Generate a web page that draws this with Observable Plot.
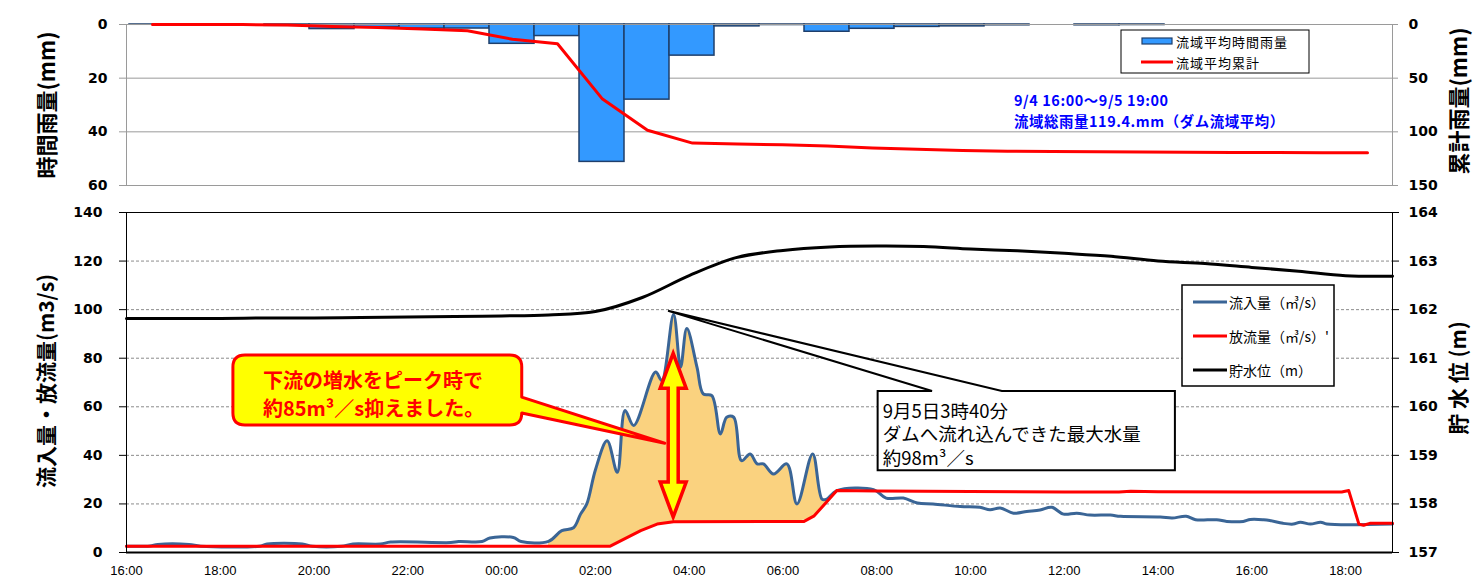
<!DOCTYPE html>
<html><head><meta charset="utf-8">
<script src="https://cdn.jsdelivr.net/npm/d3@7"></script>
<script src="https://cdn.jsdelivr.net/npm/@observablehq/plot@0.6"></script>
<style>
html,body{margin:0;padding:0;background:#fff;}
#wrap{position:relative;width:1478px;height:578px;overflow:hidden;background:#fff;}
#wrap > svg{position:absolute;left:0;}
</style></head><body><div id="wrap"></div>
<script>
// ---------- DATA ----------
const hourLabels = ["16:00","17:00","18:00","19:00","20:00","21:00","22:00","23:00","00:00","01:00","02:00","03:00","04:00","05:00","06:00","07:00","08:00","09:00","10:00","11:00","12:00","13:00","14:00","15:00","16:00 ","17:00 ","18:00 ","19:00 "];
const rainHourly = [0.1,0,0,0.5,1.7,1.0,1.5,1.5,7.2,4.3,51.2,28.0,11.6,0.7,0.2,2.7,1.6,0.9,0.7,0.3,0,0.3,0.2,0,0,0,0,0];
const rainCumulative = [0,0,0.1,0.5,1.9,2.9,4.2,5.8,13.8,18.0,69.5,98.5,110.5,111.4,112.0,113.3,115.0,116.3,117.4,118.0,118.4,118.6,118.9,119.1,119.2,119.3,119.4,119.4];

const inflowTimes = ["4 16:00","4 16:30","4 16:40","4 17:20","4 17:35","4 18:50","4 19:00","4 19:45","4 19:58","4 20:35","4 20:50","4 21:25","4 21:38","4 22:55","4 23:05","4 23:35","4 23:45","5 00:15","5 00:25","5 01:00","5 01:17","5 01:32","5 01:41","5 01:49","5 02:00","5 02:15","5 02:28","5 02:38","5 02:49","5 03:17","5 03:25","5 03:40","5 03:49","5 03:57","5 04:10","5 04:18","5 04:29","5 04:40","5 04:48","5 04:57","5 05:07","5 05:18","5 05:27","5 05:35","5 05:48","5 06:05","5 06:18","5 06:38","5 06:50","5 06:56","5 07:09","5 07:56","5 08:12","5 08:34","5 08:52","5 09:12","5 09:47","5 10:12","5 10:25","5 10:38","5 10:55","5 11:12","5 11:29","5 11:44","5 11:59","5 12:16","5 12:33","5 12:59","5 13:12","5 14:03","5 14:18","5 14:36","5 14:48","5 15:15","5 15:28","5 15:49","5 15:58","5 16:15","5 16:23","5 16:40","5 16:53","5 17:02","5 17:15","5 17:28","5 17:36","5 19:00"];
const inflowValues = [2.6,2.7,3.3,3.3,2.6,2.6,3.5,3.5,2.6,2.6,3.5,3.5,4.3,4.1,4.5,4.5,6.0,6.2,4.5,4.6,9.0,10.2,15.8,20.0,34.0,46.0,33.0,58.5,52.3,74.3,70.8,98.0,76.3,92.2,76.3,65.3,64.6,48.8,55.7,55.7,37.8,40.6,36.5,36.5,32.3,36.5,20.0,40.6,22.0,22.0,25.5,25.9,22.4,22.4,20.4,20.0,18.9,18.6,17.6,18.3,16.2,16.9,17.5,18.6,15.8,16.2,15.4,15.4,14.9,14.6,14.2,14.9,13.5,13.5,12.8,12.8,13.6,13.5,13.2,12.0,11.7,12.5,11.7,12.5,11.7,11.7];

const outflowTimes = ["4 16:00","5 02:19","5 02:58","5 03:19","5 03:40","5 06:27","5 06:40","5 07:09","5 08:00","5 10:00","5 12:00","5 13:10","5 13:25","5 14:00","5 16:00","5 17:55","5 18:04","5 18:17","5 18:23","5 18:31","5 19:00"];
const outflowValues = [2.6,2.6,9.0,11.7,12.7,12.8,15.1,25.5,25.3,25.1,24.9,24.9,25.2,25.0,24.9,24.9,25.5,11.7,11.2,12.0,12.0];

const levelValues = [161.82,161.82,161.82,161.83,161.83,161.84,161.85,161.86,161.87,161.89,161.96,162.25,162.70,163.07,163.22,163.29,163.31,163.30,163.25,163.21,163.16,163.10,163.00,162.95,162.87,162.79,162.70,162.69];

const xTickHours = [0,2,4,6,8,10,12,14,16,18,20,22,24,26];
const xTickLabels = ["16:00","18:00","20:00","22:00","00:00","02:00","04:00","06:00","08:00","10:00","12:00","14:00","16:00","18:00"];
const rainTicks = [0,20,40,60];
const cumTicks = [0,50,100,150];
const flowTicks = [0,20,40,60,80,100,120,140];
const levelTicks = [157,158,159,160,161,162,163,164];

// ---------- PREP ----------
const parseT = s => { const [d, hm] = s.split(" "); const [H, M] = hm.split(":").map(Number); return (Number(d) - 4) * 24 + H + M / 60 - 16; };
const rainData = hourLabels.map((h, i) => ({hour: h, mm: rainHourly[i], cum: rainCumulative[i]}));
const inflow = inflowTimes.map((s, i) => ({t: parseT(s), v: inflowValues[i]}));
const outflow = outflowTimes.map((s, i) => ({t: parseT(s), v: outflowValues[i]}));
const level = levelValues.map((v, i) => ({t: i, v}));
const outT = outflow.map(d => d.t);
function outflowAt(t) {
  const i = d3.bisectRight(outT, t);
  if (i <= 0) return outflow[0].v;
  if (i >= outT.length) return outflow[outT.length - 1].v;
  const a = outflow[i - 1], b = outflow[i];
  return a.v + (b.v - a.v) * (t - a.t) / (b.t - a.t);
}
const fillData = inflow.filter(d => d.t >= 9 && d.t <= 15.16).map(d => ({t: d.t, hi: d.v, lo: outflowAt(d.t)}));

const W = 1478, ML = 126, MR = 86;
const tickFont = {fontFamily: "DejaVu Sans", fontSize: 14, fontWeight: "bold"};
const wrap = document.getElementById("wrap");
function place(svg, top) { svg.style.top = top + "px"; wrap.appendChild(svg); return svg; }

// ---------- TOP: rainfall ----------
const topDims = {width: W, height: 192, marginLeft: ML, marginRight: MR, marginTop: 24, marginBottom: 7};
const topBars = Plot.plot({
  ...topDims,
  style: {background: "transparent", color: "#000"},
  x: {type: "band", domain: hourLabels, padding: 0, axis: null},
  y: {domain: [0, 60], reverse: true, label: null},
  marks: [
    Plot.gridY([20, 40], {stroke: "#9a9a9a", strokeOpacity: 1}),
    Plot.barY(rainData, {x: "hour", y: "mm", fill: "#3399FF", stroke: "#1F3F6B", strokeWidth: 1.5}),
    Plot.frame({stroke: "#9a9a9a"}),
    Plot.axisY(rainTicks, {anchor: "left", tickSize: 7, tickPadding: 12, stroke: "#9a9a9a", label: null, ...tickFont})
  ]
});
place(topBars, 0);
const topLine = Plot.plot({
  ...topDims,
  style: {background: "transparent", color: "#000"},
  x: {type: "point", domain: hourLabels, padding: 0.5, axis: null},
  y: {domain: [0, 150], reverse: true, label: null},
  marks: [
    Plot.lineY(rainData, {x: "hour", y: "cum", stroke: "#FF0000", strokeWidth: 3}),
    Plot.axisY(cumTicks, {anchor: "right", tickSize: 5, tickPadding: 11, stroke: "#9a9a9a", label: null, ...tickFont})
  ]
});
place(topLine, 0);

// ---------- BOTTOM: flows ----------
const BT = 192;
const botDims = {width: W, height: 386, marginLeft: ML, marginRight: MR, marginTop: 20, marginBottom: 26};
const flowPlot = Plot.plot({
  ...botDims,
  style: {background: "transparent", color: "#000"},
  x: {domain: [0, 27], label: null},
  y: {domain: [0, 140], label: null},
  marks: [
    Plot.gridY(flowTicks.filter(d => d > 0 && d < 140), {stroke: "#8c8c8c", strokeOpacity: 1, strokeDasharray: "3,2"}),
    Plot.areaY(fillData, {x: "t", y1: "lo", y2: "hi", fill: "#FAD27F", curve: "catmull-rom"}),
    Plot.line(inflow, {x: "t", y: "v", stroke: "#3A6596", strokeWidth: 3, curve: "catmull-rom"}),
    Plot.line(outflow, {x: "t", y: "v", stroke: "#FF0000", strokeWidth: 3}),
    Plot.frame({stroke: "#000"}),
    Plot.ruleY([0], {stroke: "#000", strokeWidth: 2}),
    Plot.axisY(flowTicks, {anchor: "left", tickSize: 7, tickPadding: 17, stroke: "#000", label: null, ...tickFont}),
    Plot.axisX(xTickHours, {anchor: "bottom", tickSize: 0, tickPadding: 13, label: null, tickFormat: d => xTickLabels[xTickHours.indexOf(d)], fontFamily: "Liberation Sans", fontSize: 13, fontWeight: "normal"})
  ]
});
place(flowPlot, BT);
const levelPlot = Plot.plot({
  ...botDims,
  style: {background: "transparent", color: "#000"},
  x: {domain: [0, 27], axis: null},
  y: {domain: [157, 164], label: null},
  marks: [
    Plot.line(level, {x: "t", y: "v", stroke: "#000", strokeWidth: 3, curve: "catmull-rom"}),
    Plot.axisY(levelTicks, {anchor: "right", tickSize: 6, tickPadding: 10, stroke: "#000", label: null, ...tickFont})
  ]
});
place(levelPlot, BT);

// ---------- OVERLAY: titles, legends, callouts ----------
const ov = d3.select(wrap).append("svg").attr("width", W).attr("height", 578).style("top", "0px");
const fx = t => flowPlot.scale("x").apply(t);
const fy = v => flowPlot.scale("y").apply(v) + BT;
const CJK = "'Noto Sans CJK JP', sans-serif";

function vtitle(x, y, txt, size) {
  ov.append("text").attr("transform", `translate(${x},${y}) rotate(-90)`)
    .attr("text-anchor", "middle").attr("dominant-baseline", "central")
    .style("font-family", CJK).style("font-weight", "bold").style("font-size", size + "px").text(txt);
}
vtitle(45, 105, "時間雨量(mm)", 22);
vtitle(1457, 101, "累計雨量(mm)", 22);
vtitle(45, 381, "流入量・放流量(m3/s)", 21);
vtitle(1457, 378, "貯 水 位 (m)", 21);

// top legend
ov.append("rect").attr("x", 1121).attr("y", 30).attr("width", 188).attr("height", 43).attr("fill", "#fff").attr("stroke", "#000");
ov.append("rect").attr("x", 1142).attr("y", 38).attr("width", 30).attr("height", 6).attr("fill", "#3399FF").attr("stroke", "#1F3F6B").attr("stroke-width", 1.2);
ov.append("line").attr("x1", 1141).attr("x2", 1173).attr("y1", 62).attr("y2", 62).attr("stroke", "#FF0000").attr("stroke-width", 3);
[["流域平均時間雨量", 41.5], ["流域平均累計", 62]].forEach(([t, y]) => {
  ov.append("text").attr("x", 1176).attr("y", y).attr("dominant-baseline", "central")
    .style("font-family", CJK).style("font-size", "13px").style("letter-spacing", "1px").text(t);
});
// top blue note
[["9/4 16:00～9/5 19:00", 99], ["流域総雨量119.4.mm（ダム流域平均）", 120]].forEach(([t, y]) => {
  ov.append("text").attr("x", 1014).attr("y", y).attr("dominant-baseline", "central").attr("fill", "#0000FF")
    .style("font-family", CJK).style("font-weight", "bold").style("font-size", "14.4px").style("letter-spacing", "0.6px").text(t);
});

// bottom legend
ov.append("rect").attr("x", 1182).attr("y", 285).attr("width", 152).attr("height", 101).attr("fill", "#fff").attr("stroke", "#000").attr("stroke-width", 1.5);
[["流入量（㎥/s）", 302, "#3A6596"], ["放流量（㎥/s）'", 336, "#FF0000"], ["貯水位（m）", 370, "#000"]].forEach(([t, y, c]) => {
  ov.append("line").attr("x1", 1193).attr("x2", 1227).attr("y1", y).attr("y2", y).attr("stroke", c).attr("stroke-width", 3);
  ov.append("text").attr("x", 1229).attr("y", y).attr("dominant-baseline", "central")
    .style("font-family", CJK).style("font-size", "14px").text(t);
});

// yellow callout (anchored in data units)
{
  const L = fx(2.28), R = fx(8.44), T = fy(81.1), B = fy(52.3), r = 12;
  const p1 = fy(63.8), p2 = fy(57.2), tx = fx(11.49), ty = fy(44.8);
  const path = `M${L + r},${T} H${R - r} Q${R},${T} ${R},${T + r} V${p1} L${tx},${ty} L${R},${p2} V${B - r} Q${R},${B} ${R - r},${B} H${L + r} Q${L},${B} ${L},${B - r} V${T + r} Q${L},${T} ${L + r},${T} Z`;
  ov.append("path").attr("d", path).attr("fill", "#FFFF00").attr("stroke", "#FF0000").attr("stroke-width", 3).attr("stroke-linejoin", "round");
  [["下流の増水をピーク時で", 24], ["約85m³／s抑えました。", 52]].forEach(([t, dy]) => {
    ov.append("text").attr("x", L + 30).attr("y", T + dy).attr("dominant-baseline", "central").attr("fill", "#FF0000")
      .style("font-family", CJK).style("font-weight", "bold").style("font-size", "20px").text(t);
  });
}
// double arrow
{
  const cx = fx(11.67), yt = fy(81.8), yb = fy(14.4), Lh = 35, Wh = 13, s = 5;
  const pts = [[cx, yt], [cx + Wh, yt + Lh], [cx + s, yt + Lh], [cx + s, yb - Lh], [cx + Wh, yb - Lh], [cx, yb], [cx - Wh, yb - Lh], [cx - s, yb - Lh], [cx - s, yt + Lh], [cx - Wh, yt + Lh]];
  ov.append("path").attr("d", "M" + pts.map(p => p.join(",")).join("L") + "Z").attr("fill", "#FFFF00").attr("stroke", "#FF0000").attr("stroke-width", 3.5).attr("stroke-linejoin", "miter");
}
// white callout for peak
{
  const L = fx(16.03), R = fx(22.37), T = fy(66.3), B = fy(33.7);
  const w1 = fx(17.19), w2 = fx(18.68), ax = fx(11.56), ay = fy(99.3);
  const path = `M${L},${T} H${w1} L${ax},${ay} L${w2},${T} H${R} V${B} H${L} Z`;
  ov.append("path").attr("d", path).attr("fill", "#fff").attr("stroke", "#000").attr("stroke-width", 2);
  [["9月5日3時40分", 19], ["ダムへ流れ込んできた最大水量", 42.5], ["約98m³／s", 66]].forEach(([t, dy]) => {
    ov.append("text").attr("x", L + 5).attr("y", T + dy).attr("dominant-baseline", "central")
      .style("font-family", CJK).style("font-size", "18.5px").text(t);
  });
}
</script></body></html>
